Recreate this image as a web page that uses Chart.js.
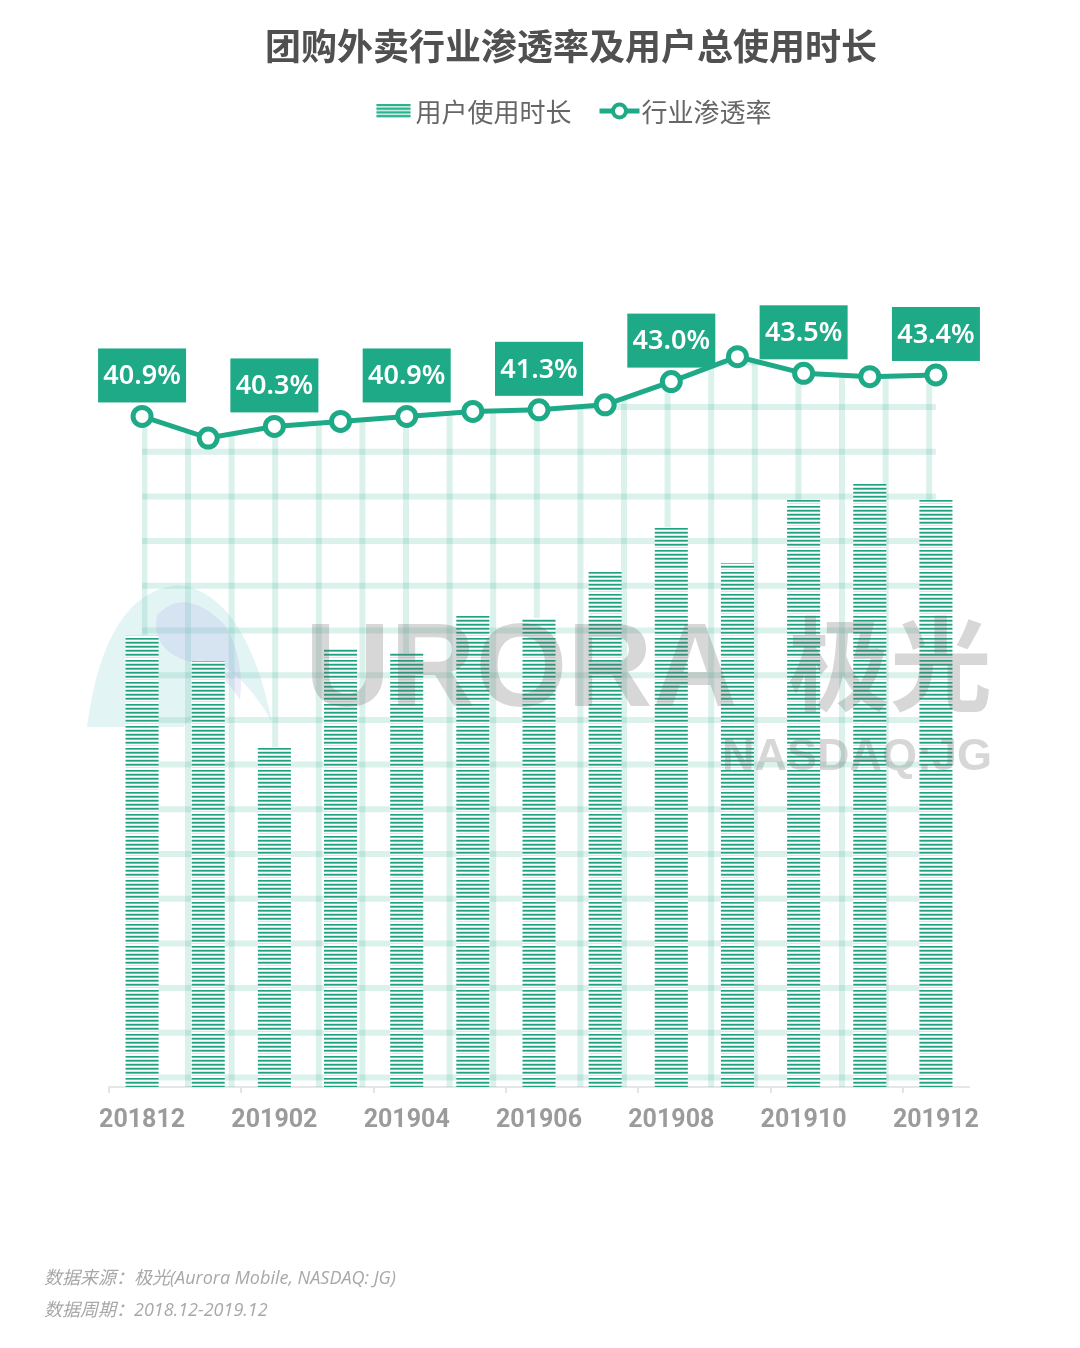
<!DOCTYPE html>
<html>
<head>
<meta charset="utf-8">
<title>团购外卖行业渗透率及用户总使用时长</title>
<script src="https://cdn.jsdelivr.net/npm/chart.js@4.4.1/dist/chart.umd.min.js"></script>
<style>
  html, body { margin: 0; padding: 0; background: #ffffff; }
  canvas { display: block; }
</style>
</head>
<body>
<canvas id="chart" width="1080" height="1348"></canvas>
<script>
// Months on the category axis
const months = ['201812', '201901', '201902', '201903', '201904', '201905', '201906',
                '201907', '201908', '201909', '201910', '201911', '201912'];
// Months that carry an axis label (and a value badge on the line)
const tickLabels = ['201812', '201902', '201904', '201906', '201908', '201910', '201912'];
// 用户使用时长 (relative units)
const usageTime = [4.52, 4.26, 3.40, 4.39, 4.34, 4.71, 4.69, 5.16, 5.60, 5.24, 5.87, 6.03, 5.87];
// 行业渗透率 (%)
const penetration = [40.9, 39.6, 40.3, 40.6, 40.9, 41.2, 41.3, 41.6, 43.0, 44.5, 43.5, 43.3, 43.4];

const TEAL = '#1ea987';
const canvas = document.getElementById('chart');
const ctx0 = canvas.getContext('2d');

// Horizontal pinstripe fill for the bars
function makeStripePattern() {
  const t = document.createElement('canvas');
  t.width = 8; t.height = 22;
  const g = t.getContext('2d');
  g.fillStyle = '#ffffff';
  g.fillRect(0, 0, 8, 22);
  const rows = ['#1fa282', '#5ccaab', '#ffffff', '#c9ede2'];
  for (let s = 0; s < 5; s++) {
    rows.forEach((c, k) => { g.fillStyle = c; g.fillRect(0, s * 4 + k, 8, 1); });
  }
  return ctx0.createPattern(t, 'repeat');
}

// Light lattice used to fill the area under the penetration line
function makeLatticePattern() {
  const cw = 43.6, ch = 44.7, n = 10;
  const t = document.createElement('canvas');
  t.width = Math.round(cw * n); t.height = Math.round(ch * n);
  const g = t.getContext('2d');
  g.strokeStyle = 'rgba(30,168,134,0.16)';
  g.lineWidth = 6;
  for (let i = 0; i <= n; i++) {
    g.beginPath(); g.moveTo(i * cw, 0); g.lineTo(i * cw, t.height); g.stroke();
  }
  for (let i = 0; i <= n; i++) {
    g.beginPath(); g.moveTo(0, i * ch); g.lineTo(t.width, i * ch); g.stroke();
  }
  const p = ctx0.createPattern(t, 'repeat');
  p.setTransform(new DOMMatrix().translate(188, 407));
  return p;
}

const stripePattern = makeStripePattern();
const latticePattern = makeLatticePattern();

// Title, legend, value badges, watermark and source notes
const decorations = {
  id: 'decorations',
  beforeDatasetsDraw(chart) {
    const ctx = chart.ctx;
    ctx.save();
    // faint logo mark at the left of the watermark
    ctx.fillStyle = 'rgba(110,200,195,0.20)';
    ctx.beginPath();
    ctx.moveTo(87, 727);
    ctx.quadraticCurveTo(105, 592, 178, 585);
    ctx.quadraticCurveTo(245, 592, 272, 722);
    ctx.quadraticCurveTo(230, 650, 190, 662);
    ctx.quadraticCurveTo(215, 700, 183, 727);
    ctx.closePath();
    ctx.fill();
    ctx.fillStyle = 'rgba(165,160,230,0.20)';
    ctx.beginPath();
    ctx.moveTo(157, 615);
    ctx.quadraticCurveTo(185, 585, 225, 625);
    ctx.quadraticCurveTo(245, 660, 240, 700);
    ctx.quadraticCurveTo(215, 660, 190, 662);
    ctx.quadraticCurveTo(150, 650, 157, 615);
    ctx.closePath();
    ctx.fill();
    ctx.restore();
  },
  afterDatasetsDraw(chart) {
    const ctx = chart.ctx;
    const meta = chart.getDatasetMeta(1);
    ctx.save();
    ctx.font = '600 27px "Noto Sans", "Noto Sans CJK SC", sans-serif';
    ctx.textAlign = 'center';
    ctx.textBaseline = 'middle';
    meta.data.forEach((pt, i) => {
      if (!tickLabels.includes(months[i])) return;
      const cx = pt.x, cy = pt.y - 41;
      ctx.fillStyle = TEAL;
      ctx.fillRect(cx - 44, cy - 27, 88, 54);
      ctx.fillStyle = '#ffffff';
      ctx.fillText(penetration[i].toFixed(1) + '%', cx, cy + 1);
    });
    ctx.restore();
  },
  afterDraw(chart) {
    const ctx = chart.ctx;
    ctx.save();
    // title
    ctx.fillStyle = '#505050';
    ctx.font = 'bold 36px "Noto Sans CJK SC", sans-serif';
    ctx.textAlign = 'center';
    ctx.textBaseline = 'middle';
    ctx.fillText('团购外卖行业渗透率及用户总使用时长', 571, 46);

    // legend
    const names = [chart.data.datasets[0].label, chart.data.datasets[1].label];
    ctx.font = '26px "Noto Sans CJK SC", sans-serif';
    ctx.textAlign = 'left';
    const w1 = ctx.measureText(names[0]).width;
    const w2 = ctx.measureText(names[1]).width;
    const total = 34 + 5 + w1 + 28 + 40 + 2 + w2;
    let x = 574 - total / 2;
    const cy = 111;
    ctx.fillStyle = '#c4ebdf';
    ctx.fillRect(x, cy - 7, 34, 14);
    ctx.fillStyle = '#2bb28f';
    for (let k = 0; k < 4; k++) ctx.fillRect(x, cy - 7 + k * 3.7, 34, 2);
    x += 34 + 5;
    ctx.fillStyle = '#666666';
    ctx.fillText(names[0], x, cy + 1);
    x += w1 + 28;
    ctx.strokeStyle = TEAL;
    ctx.lineWidth = 5;
    ctx.beginPath(); ctx.moveTo(x, cy); ctx.lineTo(x + 40, cy); ctx.stroke();
    ctx.fillStyle = '#ffffff';
    ctx.lineWidth = 4;
    ctx.beginPath(); ctx.arc(x + 20, cy, 6.5, 0, Math.PI * 2); ctx.fill(); ctx.stroke();
    x += 40 + 2;
    ctx.fillStyle = '#666666';
    ctx.fillText(names[1], x, cy + 1);

    // watermark
    ctx.fillStyle = 'rgba(100,100,100,0.26)';
    ctx.textBaseline = 'alphabetic';
    ctx.font = 'bold 118px "Liberation Sans", sans-serif';
    ctx.fillText('URORA', 305, 706);
    ctx.font = 'bold 102px "Noto Sans CJK SC", sans-serif';
    ctx.fillText('极光', 788, 703);
    ctx.font = 'bold 45px "Liberation Sans", sans-serif';
    ctx.fillText('NASDAQ:JG', 722, 770);

    // source notes
    ctx.fillStyle = '#a8a8a8';
    ctx.font = 'italic 18px "Open Sans", "Noto Sans CJK SC", sans-serif';
    ctx.textBaseline = 'middle';
    ctx.fillText('数据来源：极光(Aurora Mobile, NASDAQ: JG)', 44, 1279);
    ctx.fillText('数据周期：2018.12-2019.12', 44, 1311);
    ctx.restore();
  }
};

new Chart(canvas, {
  type: 'bar',
  data: {
    labels: months,
    datasets: [
      {
        type: 'bar',
        label: '用户使用时长',
        data: usageTime,
        yAxisID: 'y',
        backgroundColor: stripePattern,
        borderWidth: 0,
        categoryPercentage: 0.8,
        barPercentage: 0.625,
        order: 2
      },
      {
        type: 'line',
        label: '行业渗透率',
        data: penetration,
        yAxisID: 'y1',
        borderColor: TEAL,
        borderWidth: 5,
        backgroundColor: latticePattern,
        fill: 'start',
        tension: 0,
        pointRadius: 9,
        pointBorderWidth: 5,
        pointBackgroundColor: '#ffffff',
        pointBorderColor: TEAL,
        order: 1
      }
    ]
  },
  options: {
    responsive: false,
    animation: false,
    devicePixelRatio: 1,
    layout: { padding: { left: 109, right: 111, top: 287, bottom: 201 } },
    scales: {
      x: {
        offset: true,
        grid: {
          offset: true,
          drawOnChartArea: false,
          drawTicks: true,
          tickLength: 6,
          lineWidth: 2,
          color: (c) => (c.index !== undefined && tickLabels.includes(months[c.index])) ? '#e4e4e4' : 'rgba(0,0,0,0)'
        },
        border: { display: true, color: '#e6e6e6', width: 2 },
        ticks: {
          autoSkip: false,
          maxRotation: 0,
          padding: 13,
          color: '#9b9b9b',
          font: { family: 'Roboto', size: 25, weight: 'bold' },
          callback: (v, i) => tickLabels.includes(months[i]) ? months[i] : ''
        },
        afterFit: (s) => { s.height = 60; }
      },
      y: { display: false, min: 0, max: 8 },
      y1: { display: false, min: 0.5, max: 48.7 }
    },
    plugins: {
      legend: { display: false },
      title: { display: false },
      tooltip: { enabled: false },
      filler: { drawTime: 'beforeDatasetsDraw' }
    }
  },
  plugins: [decorations]
});
</script>
</body>
</html>
